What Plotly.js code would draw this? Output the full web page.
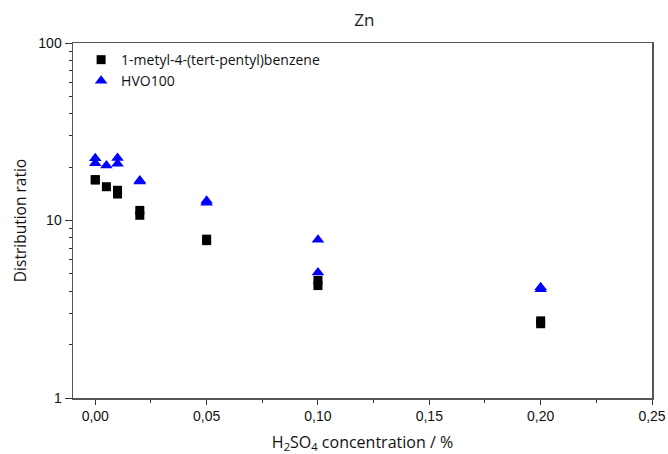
<!DOCTYPE html>
<html>
<head>
<meta charset="utf-8">
<script src="https://cdn.plot.ly/plotly-3.0.1.min.js"></script>
<style>html,body{margin:0;padding:0;background:#fff;}#chart{width:668px;height:454px;}</style>
</head>
<body>
<div id="chart"></div>
<script>
// H2SO4 concentration (%)
var concBenzene = [0, 0, 0.005, 0.01, 0.01, 0.02, 0.02, 0.05, 0.05, 0.1, 0.1, 0.2, 0.2];
var ratioBenzene = [17.0, 16.9, 15.5, 14.8, 14.1, 11.4, 10.7, 7.85, 7.7, 4.6, 4.3, 2.72, 2.62];
var concHVO = [0, 0, 0.005, 0.01, 0.01, 0.02, 0.02, 0.05, 0.05, 0.1, 0.1, 0.2, 0.2];
var ratioHVO = [22.4, 21.0, 20.4, 22.5, 20.9, 16.8, 16.6, 12.9, 12.6, 7.8, 5.1, 4.2, 4.1];
var seriesNames = ['1-metyl-4-(tert-pentyl)benzene', 'HVO100'];
var xTickVals = [0, 0.05, 0.1, 0.15, 0.2, 0.25];
var yTickVals = [1, 10, 100];
var yTickText = ['1', '10', '100'];
var yMinorVals = [2, 3, 4, 5, 6, 7, 8, 9, 20, 30, 40, 50, 60, 70, 80, 90];

var data = [
  {x: concBenzene, y: ratioBenzene, name: seriesNames[0], type: 'scatter', mode: 'markers',
   marker: {symbol: 'square', size: 9, color: '#000000'}},
  {x: concHVO, y: ratioHVO, name: seriesNames[1], type: 'scatter', mode: 'markers',
   marker: {symbol: 'triangle-up', size: 11, color: '#0000ff'}}
];

var layout = {
  width: 668, height: 454,
  margin: {l: 73, r: 16, t: 43, b: 56},
  paper_bgcolor: '#fff', plot_bgcolor: '#fff',
  separators: ', ',
  title: {text: 'Zn', x: 0.5455, xanchor: 'center', y: 0.955, yanchor: 'middle',
          font: {family: 'Open Sans, sans-serif', size: 17, color: '#222'}},
  xaxis: {
    range: [-0.01, 0.25], tickvals: xTickVals, tickformat: '.2f',
    showgrid: false, zeroline: false, showline: true, mirror: true,
    linecolor: '#555', linewidth: 1.5,
    ticks: 'outside', ticklen: 5, tickcolor: '#333', tickwidth: 1,
    minor: {ticks: 'outside', ticklen: 3, tickcolor: '#333', dtick: 0.025, showgrid: false},
    tickfont: {family: 'Liberation Sans, Arial, sans-serif', size: 14, color: '#111'},
    title: {text: 'H<sub>2</sub>SO<sub>4</sub> concentration / %', standoff: 14,
            font: {family: 'Open Sans, sans-serif', size: 16, color: '#111'}}
  },
  yaxis: {
    type: 'log', range: [0, 2],
    tickmode: 'array', tickvals: yTickVals, ticktext: yTickText,
    showgrid: false, zeroline: false, showline: true, mirror: true,
    linecolor: '#555', linewidth: 1.5,
    ticks: 'outside', ticklen: 7, tickcolor: '#333', tickwidth: 1,
    minor: {ticks: 'outside', ticklen: 3, tickcolor: '#333', tickmode: 'array',
            tickvals: yMinorVals, showgrid: false},
    tickfont: {family: 'Liberation Sans, Arial, sans-serif', size: 14, color: '#111'},
    title: {text: 'Distribution ratio', standoff: 8,
            font: {family: 'Open Sans, sans-serif', size: 15.5, color: '#111'}}
  },
  legend: {x: 0.014, y: 0.997, xanchor: 'left', yanchor: 'top', bgcolor: 'rgba(0,0,0,0)',
           font: {family: 'Open Sans, sans-serif', size: 14, color: '#111'}, tracegroupgap: 0},
  showlegend: true
};

Plotly.newPlot('chart', data, layout, {displayModeBar: false, staticPlot: true});
</script>
</body>
</html>
